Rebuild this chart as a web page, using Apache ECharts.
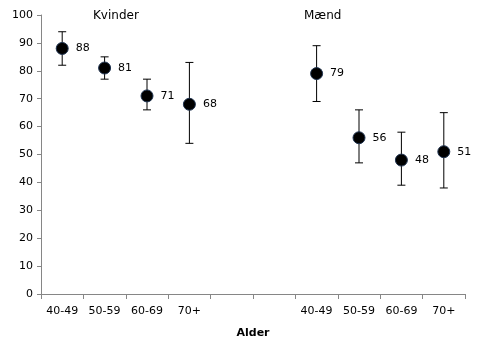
<!DOCTYPE html>
<html><head><meta charset="utf-8">
<script src="https://cdn.jsdelivr.net/npm/echarts@6/dist/echarts.min.js"></script>
<style>html,body{margin:0;padding:0;background:#fff}#c{width:480px;height:356px}</style>
</head><body><div id="c"></div>
<script>
var categories = ['40-49','50-59','60-69','70+','','','40-49','50-59','60-69','70+'];
var values = [88,81,71,68,null,null,79,56,48,51];
var lower = [82,77,66,54,null,null,69,47,39,38];
var upper = [94,85,77,83,null,null,89,66,58,65];
var yTicks = [0,10,20,30,40,50,60,70,80,90,100];
var groupLabels = ['Kvinder','Mænd'];

var FONT = 'DejaVu Sans';
var chart = echarts.init(document.getElementById('c'));
var pts = [], errs = [];
for (var i = 0; i < categories.length; i++) {
  if (values[i] != null) {
    pts.push([i, values[i]]);
    errs.push([i, lower[i], upper[i]]);
  }
}
chart.setOption({
  animation: false,
  grid: {left: 41, right: 15, top: 15, bottom: 62},
  xAxis: {
    type: 'category', data: categories, boundaryGap: true,
    name: 'Alder', nameLocation: 'middle', nameGap: 34,
    nameTextStyle: {fontFamily: FONT, fontSize: 11, fontWeight: 'bold', color: '#000'},
    axisLine: {lineStyle: {color: '#868686', width: 1}},
    axisTick: {show: true, interval: 0, length: 5, lineStyle: {color: '#868686'}},
    axisLabel: {interval: 0, fontFamily: FONT, fontSize: 11, color: '#000', margin: 12},
    splitLine: {show: false}
  },
  yAxis: {
    type: 'value', min: yTicks[0], max: yTicks[yTicks.length-1], interval: 10,
    axisLine: {show: true, lineStyle: {color: '#868686', width: 1}},
    axisTick: {show: true, length: 4, lineStyle: {color: '#868686'}},
    axisLabel: {fontFamily: FONT, fontSize: 11, color: '#000', margin: 8},
    splitLine: {show: false}
  },
  graphic: [
    {type: 'text', left: 93, top: 10, style: {text: groupLabels[0], font: '12px ' + FONT, fill: '#000'}},
    {type: 'text', left: 304, top: 10, style: {text: groupLabels[1], font: '12px ' + FONT, fill: '#000'}}
  ],
  series: [
    {
      type: 'custom', data: errs, z: 1,
      renderItem: function (params, api) {
        var x = api.value(0);
        var lo = api.coord([x, api.value(1)]);
        var hi = api.coord([x, api.value(2)]);
        var w = 4;
        var st = {stroke: '#000', lineWidth: 1};
        return {type: 'group', children: [
          {type: 'line', shape: {x1: lo[0], y1: lo[1], x2: hi[0], y2: hi[1]}, style: st},
          {type: 'line', shape: {x1: lo[0]-w, y1: lo[1], x2: lo[0]+w, y2: lo[1]}, style: st},
          {type: 'line', shape: {x1: hi[0]-w, y1: hi[1], x2: hi[0]+w, y2: hi[1]}, style: st}
        ]};
      }
    },
    {
      type: 'scatter', data: pts, z: 3, symbol: 'circle', symbolSize: 12,
      itemStyle: {color: '#000', opacity: 1, borderColor: '#1f3350', borderWidth: 1},
      label: {show: true, position: 'right', distance: 7, fontFamily: FONT, fontSize: 11, color: '#000',
        formatter: function (p) { return p.value[1]; }}
    }
  ]
});
</script></body></html>
